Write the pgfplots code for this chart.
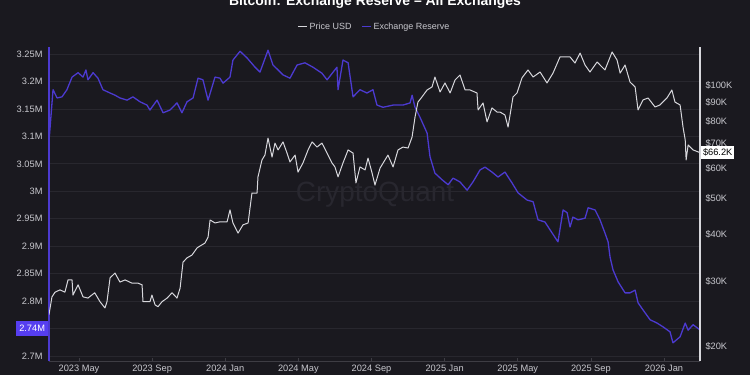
\documentclass[border=0pt]{standalone}
\usepackage{pgfplots}
\pgfplotsset{compat=1.18}
\usepackage{pgfplotstable}
\usepackage{fontspec}
\setmainfont{Liberation Sans}
\definecolor{bg}{RGB}{26,25,31}
\definecolor{gridc}{RGB}{40,39,46}
\definecolor{axc}{RGB}{62,61,68}
\definecolor{resc}{RGB}{76,58,208}
\definecolor{boxc}{RGB}{86,62,240}
\definecolor{pricec}{RGB}{215,215,220}
\definecolor{txt}{RGB}{200,200,206}
\definecolor{wm}{RGB}{40,39,47}
\pgfplotstableread{
m V
2.38 3.100
2.58 3.185
2.80 3.170
3.07 3.172
3.34 3.185
3.62 3.208
3.95 3.216
4.22 3.208
4.38 3.221
4.49 3.203
4.77 3.216
5.04 3.206
5.31 3.185
5.70 3.179
5.97 3.175
6.24 3.170
6.63 3.166
6.95 3.172
7.34 3.163
7.72 3.157
7.88 3.148
8.27 3.166
8.60 3.143
8.98 3.148
9.36 3.161
9.63 3.143
9.91 3.163
10.24 3.170
10.51 3.206
10.78 3.203
11.06 3.166
11.44 3.208
11.71 3.206
11.88 3.197
12.26 3.208
12.42 3.239
12.81 3.255
13.19 3.243
13.63 3.226
13.90 3.217
14.34 3.257
14.61 3.230
14.89 3.221
15.16 3.212
15.54 3.206
15.93 3.230
16.36 3.234
16.80 3.226
17.29 3.215
17.57 3.203
18.11 3.226
18.17 3.185
18.44 3.239
18.72 3.234
18.99 3.172
19.37 3.185
19.75 3.179
20.08 3.185
20.30 3.157
20.63 3.153
21.18 3.157
21.72 3.157
22.11 3.161
22.22 3.175
22.38 3.153
22.65 3.135
23.04 3.106
23.20 3.063
23.47 3.033
23.86 3.021
24.19 3.012
24.46 3.024
24.84 3.017
25.23 3.002
25.55 3.017
25.94 3.039
26.21 3.044
26.59 3.035
26.92 3.026
27.30 3.035
27.69 3.015
28.02 2.997
28.51 2.984
28.84 2.981
29.11 2.948
29.49 2.944
29.88 2.924
30.20 2.908
30.48 2.966
30.70 2.961
30.86 2.935
31.02 2.953
31.30 2.948
31.68 2.951
31.85 2.970
32.23 2.966
32.50 2.948
32.77 2.924
32.94 2.908
33.05 2.880
33.21 2.857
33.49 2.835
33.87 2.815
34.14 2.815
34.42 2.820
34.58 2.797
34.85 2.784
35.24 2.766
35.62 2.760
35.95 2.753
36.33 2.744
36.49 2.724
36.88 2.735
37.16 2.760
37.32 2.747
37.59 2.757
37.95 2.748
}\reserve
\pgfplotstableread{
m P
2.36 24.4
2.52 27.2
2.69 28.0
2.96 28.4
3.23 28.0
3.40 30.2
3.62 30.2
3.67 27.5
3.95 29.3
4.22 27.2
4.49 27.0
4.86 27.9
5.15 26.4
5.42 25.4
5.53 26.4
5.70 30.6
5.97 31.5
6.24 29.8
6.52 30.2
6.90 29.6
7.23 29.6
7.45 29.3
7.50 26.4
7.88 26.4
7.99 27.5
8.16 25.9
8.32 25.6
8.54 26.4
8.82 27.0
9.09 27.9
9.36 27.0
9.53 28.7
9.69 33.7
9.91 34.6
10.18 35.2
10.46 36.8
10.73 37.5
10.89 37.9
11.06 39.3
11.17 43.7
11.44 42.9
11.71 43.2
12.10 43.2
12.26 46.5
12.42 42.9
12.70 40.3
12.97 42.4
13.25 42.9
13.46 51.6
13.74 51.6
13.79 57.0
14.01 63.3
14.17 65.2
14.34 72.4
14.56 64.4
14.72 70.2
14.89 67.3
15.16 70.7
15.38 66.0
15.54 62.5
15.82 65.2
15.98 58.7
16.25 62.1
16.53 67.3
16.75 70.7
17.02 68.5
17.29 70.2
17.57 66.0
17.84 62.1
18.00 60.6
18.17 57.0
18.44 62.1
18.72 67.3
18.99 66.0
19.15 54.9
19.37 60.6
19.65 59.5
19.81 64.0
20.03 58.4
20.19 54.2
20.47 60.2
20.74 63.3
20.90 65.2
21.18 60.6
21.45 67.3
21.72 68.5
22.00 68.1
22.22 72.9
22.38 82.4
22.54 90.4
22.76 93.3
23.04 97.4
23.31 99.2
23.47 105.5
23.75 96.2
24.02 101.7
24.30 95.6
24.57 103.6
24.84 106.8
25.12 97.4
25.39 97.4
25.77 95.6
25.83 86.1
26.10 89.9
26.32 80.0
26.59 87.2
26.87 85.0
27.03 85.0
27.30 83.5
27.47 77.5
27.74 93.3
27.96 95.6
28.23 104.9
28.56 110.2
28.84 105.5
29.22 108.8
29.60 101.7
29.93 108.1
30.31 119.4
30.86 119.4
31.13 115.0
31.41 122.3
31.68 113.6
31.95 108.8
32.34 115.7
32.77 110.2
33.16 123.1
33.43 117.2
33.60 108.1
33.87 113.6
34.14 102.3
34.42 99.2
34.58 86.1
34.85 91.6
35.13 92.7
35.51 87.7
35.78 88.8
36.16 92.7
36.43 97.4
36.60 90.4
36.88 88.8
37.04 77.5
37.16 71.6
37.21 63.3
37.32 69.4
37.59 67.3
37.97 66.2
}\price
\begin{document}
\begin{tikzpicture}
\useasboundingbox (0,0) rectangle (750bp,375bp);
\clip (0,0) rectangle (750bp,375bp);
\fill[bg] (0,0) rectangle (750bp,375bp);
\node[text=wm, font=\fontsize{28}{30}\selectfont] at (375bp,180bp) {CryptoQuant};
\node[anchor=base, text=white, font=\bfseries\fontsize{14}{16}\selectfont] at (375bp,369bp) {Bitcoin: Exchange Reserve – All Exchanges};
\begin{axis}[
  scale only axis, width=651bp, height=314bp, at={(49bp,14bp)}, anchor=south west,
  xmin=2.359, xmax=37.969, ymin=2.6909, ymax=3.2628,
  axis x line*=bottom, axis y line*=left,
  x axis line style={-, draw=axc, line width=0.8bp},
  y axis line style={-, draw=resc, line width=1.5bp},
  xtick={4,8,12,16,20,24,28,32,36},
  xticklabels={2023 May,2023 Sep,2024 Jan,2024 May,2024 Sep,2025 Jan,2025 May,2025 Sep,2026 Jan},
  ytick={2.7,2.75,2.8,2.85,2.9,2.95,3,3.05,3.1,3.15,3.2,3.25},
  yticklabels={2.7M,,2.8M,2.85M,2.9M,2.95M,3M,3.05M,3.1M,3.15M,3.2M,3.25M},
  ymajorgrids, major grid style={draw=gridc, line width=0.7bp},
  ytick style={draw=none}, xtick style={draw=axc, line width=0.6bp},
  major tick length=2.5bp, tick align=inside,
  tick label style={text=txt, font=\fontsize{9.3}{10}\selectfont},
  yticklabel style={xshift=-3bp},
  xticklabel style={yshift=-1bp},
]
\addplot[resc, line width=1.3bp, line join=round] table[x=m, y=V] {\reserve};
\coordinate (rbox) at (axis cs:2.359,2.751);
\end{axis}
\begin{axis}[
  scale only axis, width=651bp, height=314bp, at={(49bp,14bp)}, anchor=south west,
  xmin=2.359, xmax=37.969, ymode=log, ymin=18.32, ymax=126.95,
  axis x line=none, axis y line*=right,
  y axis line style={-, draw=pricec, line width=1.2bp},
  ytick={20,30,40,50,60,70,80,90,100},
  yticklabels={\$20K,\$30K,\$40K,\$50K,\$60K,\$70K,\$80K,\$90K,\$100K},
  minor ytick={}, ytick style={draw=none},
  tick label style={text=txt, font=\fontsize{9.3}{10}\selectfont},
  yticklabel style={anchor=west, xshift=2bp},
  legend style={at={(0.5,1)}, anchor=center, yshift=20bp, draw=none, fill=none,
    text=txt, font=\fontsize{9}{10}\selectfont,
    /tikz/every even column/.append style={column sep=8bp}},
  legend columns=2,
  legend image code/.code={\draw[#1, line width=1bp] (0bp,0bp) -- (9bp,0bp);},
]
\addplot[pricec, line width=1bp, line join=round] table[x=m, y=P] {\price};
\addlegendentry{Price USD}
\addlegendimage{resc}
\addlegendentry{Exchange Reserve}
\coordinate (pbox) at (axis cs:37.969,66.2);
\end{axis}
\node[anchor=east, fill=boxc, text=white, inner xsep=3bp, inner ysep=3bp, font=\fontsize{9.3}{10}\selectfont, minimum height=15bp] at ([xshift=-0.8bp]rbox) {2.74M};
\node[anchor=west, fill=white, text=black, inner xsep=2bp, inner ysep=2.5bp, font=\fontsize{9.3}{10}\selectfont] at ([xshift=0.8bp]pbox) {\$66.2K};
\end{tikzpicture}
\end{document}
